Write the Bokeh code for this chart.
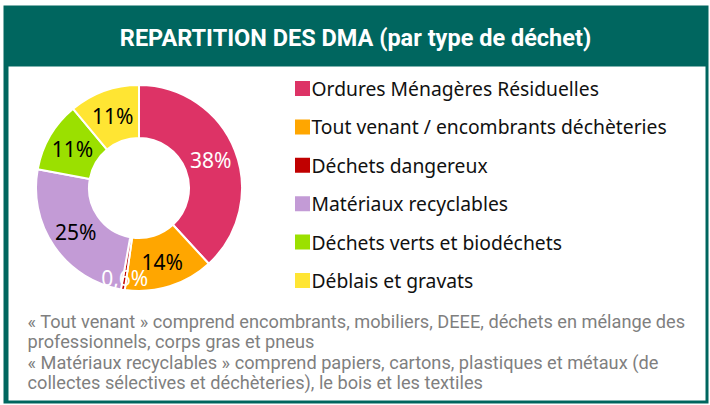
from math import pi, sin, cos
from bokeh.plotting import figure
from bokeh.models import Range1d
from bokeh.core.properties import value
from bokeh.embed import file_html
from bokeh.resources import INLINE

# ---- data ----
title = "REPARTITION DES DMA (par type de déchet)"
categories = ["Ordures Ménagères Résiduelles",
              "Tout venant / encombrants déchèteries",
              "Déchets dangereux",
              "Matériaux recyclables",
              "Déchets verts et biodéchets",
              "Déblais et gravats"]
values = [38, 14, 0.6, 25, 11, 11]
labels = ["38%", "14%", "0,6%", "25%", "11%", "11%"]
colors = ["#DD3366", "#FFA600", "#C00000", "#C39BD6", "#9BE000", "#FFE533"]
label_colors = ["white", "black", "white", "black", "black", "black"]
label_radius = [77, 78, 91, 77, 77, 77]
note_lines = ["« Tout venant » comprend encombrants, mobiliers, DEEE, déchets en mélange des",
              "professionnels, corps gras et pneus",
              "« Matériaux recyclables » comprend papiers, cartons, plastiques et métaux (de",
              "collectes sélectives et déchèteries), le bois et les textiles"]

W, H = 710, 405
def Y(v):
    return H - v

p = figure(width=W, height=H, output_backend="svg", toolbar_location=None,
           x_range=Range1d(0, W), y_range=Range1d(0, H), min_border=0)
p.axis.visible = False
p.grid.visible = False
p.outline_line_color = None
p.background_fill_color = "white"
p.border_fill_color = "white"

teal = "#00665F"
# frame
p.quad(left=[3], right=[708], top=[Y(5)], bottom=[Y(403)], fill_color=teal, line_color=None)
p.quad(left=[8], right=[705], top=[Y(66)], bottom=[Y(400)], fill_color="white", line_color=None)
p.text(x=[355], y=[Y(37)], text=[title], text_color="white", text_align="center",
       text_baseline="middle", text_font=value("Roboto"),
       text_font_style="bold", text_font_size="23.5px")

# donut
cx, cy = 138.5, Y(187.5)
total = sum(values)
starts, ends, mids = [], [], []
cum = 0.0
for v in values:
    a0 = pi / 2 - 2 * pi * cum / total
    a1 = pi / 2 - 2 * pi * (cum + v) / total
    starts.append(a0)
    ends.append(a1)
    mids.append((a0 + a1) / 2)
    cum += v
p.annular_wedge(x=cx, y=cy, inner_radius=50, outer_radius=103,
                start_angle=starts, end_angle=ends, direction="clock",
                fill_color=colors, line_color="white", line_width=2)
lx = [cx + r * cos(m) for r, m in zip(label_radius, mids)]
ly = [cy + r * sin(m) for r, m in zip(label_radius, mids)]
p.text(x=lx, y=ly, text=labels, text_color=label_colors, text_align="center",
       text_baseline="middle", text_font=value("Noto Sans"), text_font_size="21px")

# legend
ys = [Y(88 + i * 38.4) for i in range(len(categories))]
p.scatter(x=[302] * len(categories), y=ys, marker="square", size=15,
          fill_color=colors, line_color=None)
p.text(x=[311] * len(categories), y=ys, text=categories, text_color="#111111",
       text_align="left", text_baseline="middle", text_font=value("Noto Sans"),
       text_font_size="19.3px")

# notes
note_y = [Y(321), Y(341), Y(361.5), Y(382)]
grey = "#7F7F7F"
p.text(x=[27] * 4, y=note_y, text=note_lines, text_color=grey,
       text_align="left", text_baseline="middle",
       text_font=value("Roboto"), text_font_size="18.2px")

open("out.html", "w").write(file_html(p, INLINE))
